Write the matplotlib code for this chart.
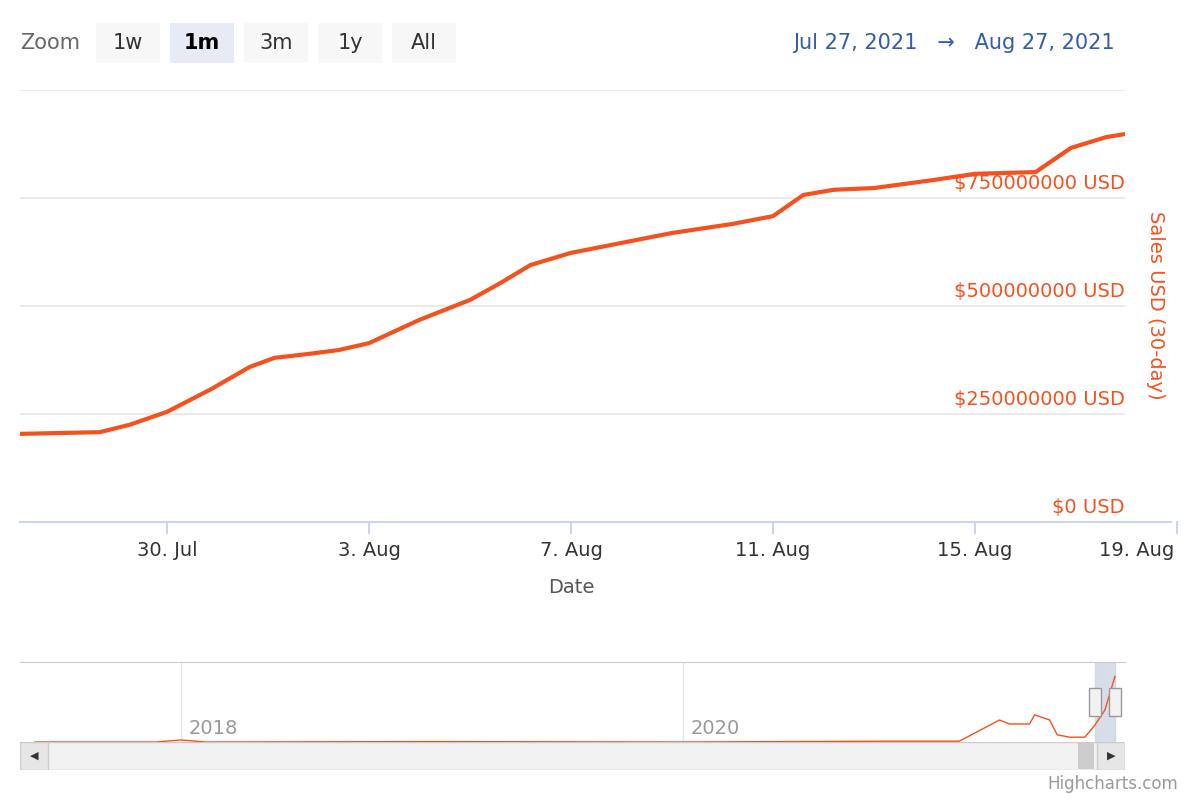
import matplotlib.pyplot as plt
from matplotlib.patches import Rectangle, FancyBboxPatch

# days since Jul 27, 2021
days = [0.09, 1.67, 2.26, 3.0, 3.85, 4.64, 5.13, 5.8, 6.4, 7.0, 8.0, 9.0, 9.6, 10.2, 11.0,
        12.0, 13.0, 14.2, 15.0, 15.6, 16.2, 17.0, 18.2, 19.0, 20.2, 20.9, 21.6, 21.97]
sales = [204e6, 208e6, 225e6, 255e6, 306e6, 359e6, 380e6, 389e6, 398e6, 414e6, 468e6, 514e6,
         553e6, 595e6, 623e6, 646e6, 669e6, 690e6, 708e6, 757e6, 769e6, 773e6, 792e6, 806e6,
         810e6, 866e6, 891e6, 898e6]
tick_days = [3, 7, 11, 15, 19, 23]
tick_labels = ["30. Jul", "3. Aug", "7. Aug", "11. Aug", "15. Aug", "19. Aug"]

# navigator (years)
nav_years = [2017.42, 2017.9, 2018.0, 2018.1, 2019.0, 2020.0, 2020.8, 2021.1, 2021.2, 2021.26,
             2021.3, 2021.38, 2021.4, 2021.46, 2021.49, 2021.54, 2021.6, 2021.64, 2021.68, 2021.72]
nav_sales = [0, 0, 25e6, 0, 5e6, 0, 10e6, 10e6, 175e6, 275e6, 225e6, 225e6, 340e6, 275e6,
             90e6, 60e6, 60e6, 210e6, 400e6, 820e6]

orange = "#f4511e"
fig = plt.figure(figsize=(12, 8), dpi=100)

ax = fig.add_axes([20/1200, 1-522/800, 1105/1200, 432/800])
ax.plot(days, sales, color=orange, lw=3, solid_capstyle="round", solid_joinstyle="round")
ax.set_xlim(0.09, 21.97)
ax.set_ylim(0, 1e9)
for v in [250e6, 500e6, 750e6, 1e9]:
    ax.axhline(v, color="#e6e6e6", lw=1.2, zorder=0)
for v in [0, 250e6, 500e6, 750e6]:
    ax.text(21.97, v + 12e6, "$%d USD" % v, color=orange, fontsize=14,
            ha="right", va="bottom")
for s in ["top", "left", "right", "bottom"]:
    ax.spines[s].set_visible(False)
ax.plot([0, 1.042], [0, 0], transform=ax.transAxes, color="#ccd6eb", lw=1.5, clip_on=False)
ax.set_yticks([])
ax.set_xticks([])
for d, lab in zip(tick_days, tick_labels):
    ax.plot([d, d], [0, -25e6], color="#ccd6eb", lw=1.5, clip_on=False)
    last = d == tick_days[-1]
    ax.text(d - (0.06 if last else 0), -45e6, lab, ha="right" if last else "center",
            va="top", fontsize=14, color="#333333")
ax.text(11.0, -130e6, "Date", ha="center", va="top", fontsize=14, color="#555555")
fig.text(1155/1200, 1-305/800, "Sales USD (30-day)", rotation=-90, color=orange,
         fontsize=14, ha="center", va="center")

# navigator
nav = fig.add_axes([20/1200, 1-742/800, 1105/1200, 80/800])
nav.plot(nav_years, nav_sales, color=orange, lw=1)
nav.set_xlim(2017.36, 2021.76)
nav.set_ylim(0, 1e9)
nav.set_xticks([])
nav.set_yticks([])
for s in ["left", "right", "bottom"]:
    nav.spines[s].set_visible(False)
nav.spines["top"].set_color("#cccccc")
for yr in [2018, 2020]:
    nav.axvline(yr, color="#e6e6e6", lw=1, zorder=0)
    nav.text(yr + 0.03, 50e6, str(yr), color="#999999", fontsize=14, va="bottom")
nav.axvspan(2021.64, 2021.72, color="#c8d0e0", alpha=0.7)
for xv in [2021.64, 2021.72]:
    nav.add_patch(Rectangle((xv - 0.025, 320e6), 0.05, 360e6, facecolor="#f2f2f2",
                            edgecolor="#999999", lw=1, clip_on=False, zorder=5))

# scrollbar
sb = fig.add_axes([20/1200, 1-770/800, 1105/1200, 28/800])
sb.set_xlim(0, 1105)
sb.set_ylim(0, 28)
sb.axis("off")
sb.add_patch(Rectangle((0, 0), 1105, 28, facecolor="#f2f2f2", edgecolor="#cccccc"))
sb.add_patch(Rectangle((1058, 1), 16, 26, facecolor="#cccccc"))
sb.add_patch(Rectangle((0, 0), 28, 28, facecolor="#e6e6e6", edgecolor="#cccccc"))
sb.add_patch(Rectangle((1077, 0), 28, 28, facecolor="#e6e6e6", edgecolor="#cccccc"))
sb.text(14, 14, "◀", ha="center", va="center", fontsize=8, color="#333333")
sb.text(1091, 14, "▶", ha="center", va="center", fontsize=8, color="#333333")
fig.text(1178/1200, 1-784/800, "Highcharts.com", ha="right", va="center",
         fontsize=12, color="#999999")

# zoom buttons and range
fig.text(20/1200, 1-43/800, "Zoom", fontsize=15, color="#666666", va="center")
buttons = [("1w", 96, 160), ("1m", 170, 234), ("3m", 244, 308), ("1y", 318, 382), ("All", 392, 456)]
for lab, x0, x1 in buttons:
    sel = lab == "1m"
    fig.patches.append(FancyBboxPatch((x0/1200, 1-63/800), (x1-x0)/1200, 40/800,
                       boxstyle="square,pad=0", transform=fig.transFigure,
                       facecolor="#e6ebf5" if sel else "#f7f7f7", edgecolor="none"))
    fig.text((x0+x1)/2/1200, 1-43/800, lab, fontsize=15, ha="center", va="center",
             color="#000000" if sel else "#333333", weight="bold" if sel else "normal")
fig.text(1115/1200, 1-43/800, "Jul 27, 2021   →   Aug 27, 2021", fontsize=15,
         color="#335cad", ha="right", va="center")

fig.savefig("out.png", dpi=100)
